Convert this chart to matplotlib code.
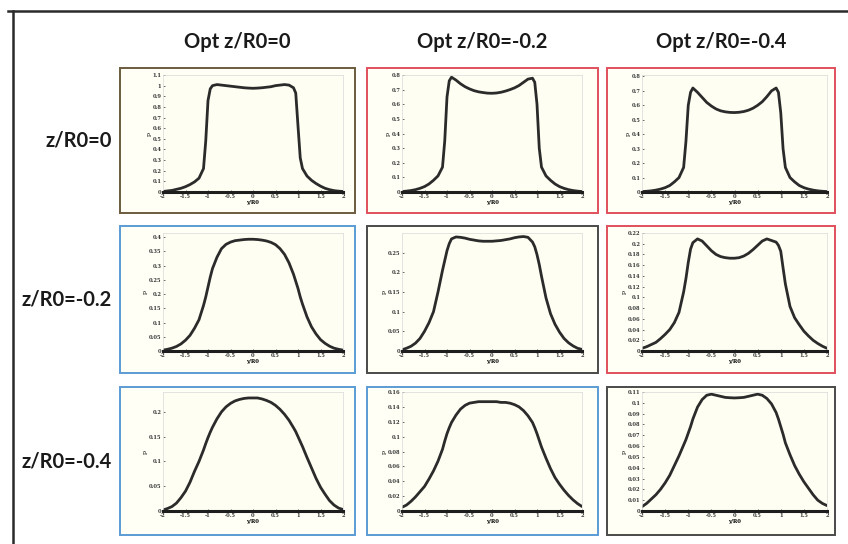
import matplotlib
matplotlib.use("Agg")
import matplotlib.pyplot as plt
from matplotlib.patches import Rectangle
from matplotlib.lines import Line2D

y_r0 = [-2.0, -1.9, -1.8, -1.7, -1.6, -1.5, -1.4, -1.3, -1.2, -1.1,
        -1.05, -1.0, -0.95, -0.9,
        -0.8, -0.7, -0.6, -0.5, -0.4, -0.3, -0.2, -0.1, 0.0, 0.1, 0.2, 0.3, 0.4, 0.5, 0.6, 0.7, 0.8, 0.9,
        0.95, 1.0, 1.05,
        1.1, 1.2, 1.3, 1.4, 1.5, 1.6, 1.7, 1.8, 1.9, 2.0]

col_titles = ["Opt z/R0=0", "Opt z/R0=-0.2", "Opt z/R0=-0.4"]
row_titles = ["z/R0=0", "z/R0=-0.2", "z/R0=-0.4"]

# row 1: z/R0=0
p_z0_opt0 = [0.005, 0.01, 0.015, 0.025, 0.035, 0.05, 0.07, 0.095, 0.13, 0.22,
             0.48, 0.86, 0.97, 1.0,
             1.01, 1.005, 1.0, 0.995, 0.99, 0.985, 0.98, 0.977, 0.975, 0.977, 0.98, 0.985, 0.99, 1.0, 1.005, 1.01, 1.005, 0.98,
             0.93, 0.62, 0.32,
             0.22, 0.15, 0.11, 0.08, 0.055, 0.035, 0.022, 0.013, 0.008, 0.005]
p_z0_opt02 = [0.003, 0.006, 0.01, 0.016, 0.025, 0.037, 0.055, 0.08, 0.11, 0.17,
              0.35, 0.65, 0.76, 0.785,
              0.765, 0.74, 0.72, 0.705, 0.693, 0.685, 0.68, 0.676, 0.675, 0.677, 0.682, 0.69, 0.70, 0.712, 0.728, 0.75, 0.772, 0.778,
              0.75, 0.6, 0.3,
              0.17, 0.11, 0.08, 0.055, 0.037, 0.025, 0.016, 0.01, 0.006, 0.003]
p_z0_opt04 = [0.003, 0.005, 0.008, 0.013, 0.02, 0.03, 0.045, 0.07, 0.1, 0.17,
              0.35, 0.6, 0.69, 0.72,
              0.69, 0.655, 0.62, 0.595, 0.575, 0.562, 0.555, 0.551, 0.55, 0.552, 0.557, 0.566, 0.58, 0.6, 0.625, 0.66, 0.7, 0.72,
              0.69, 0.55, 0.3,
              0.17, 0.1, 0.07, 0.045, 0.03, 0.02, 0.013, 0.008, 0.005, 0.003]

# row 2: z/R0=-0.2
p_z02_opt0 = [0.003, 0.006, 0.01, 0.016, 0.025, 0.038, 0.055, 0.08, 0.11, 0.16,
              0.19, 0.225, 0.26, 0.29,
              0.33, 0.36, 0.375, 0.383, 0.388, 0.39, 0.392, 0.393, 0.393, 0.392, 0.39, 0.387, 0.382, 0.374, 0.36, 0.34, 0.31, 0.27,
              0.245, 0.22, 0.19,
              0.165, 0.12, 0.085, 0.06, 0.04, 0.027, 0.017, 0.01, 0.006, 0.003]
p_z02_opt02 = [0.003, 0.007, 0.012, 0.02, 0.032, 0.05, 0.072, 0.1, 0.15, 0.205,
               0.23, 0.255, 0.273, 0.285,
               0.29, 0.289, 0.287, 0.284, 0.282, 0.28, 0.279, 0.279, 0.279, 0.28, 0.281, 0.283, 0.285, 0.288, 0.29, 0.291, 0.289, 0.277,
               0.265, 0.245, 0.22,
               0.19, 0.135, 0.095, 0.068, 0.048, 0.032, 0.021, 0.013, 0.007, 0.004]
p_z02_opt04 = [0.005, 0.008, 0.012, 0.016, 0.023, 0.031, 0.04, 0.053, 0.072, 0.11,
               0.135, 0.165, 0.19, 0.202,
               0.209, 0.205, 0.196, 0.187, 0.18, 0.176, 0.174, 0.173, 0.173, 0.174, 0.177, 0.182, 0.189, 0.197, 0.205, 0.209, 0.206, 0.203,
               0.197, 0.186, 0.155,
               0.125, 0.083, 0.062, 0.049, 0.037, 0.028, 0.02, 0.014, 0.009, 0.005]

# row 3: z/R0=-0.4
p_z04_opt0 = [0.002, 0.005, 0.009, 0.016, 0.027, 0.04, 0.058, 0.08, 0.1, 0.123,
              0.136, 0.148, 0.159, 0.169,
              0.186, 0.2, 0.21, 0.217, 0.222, 0.225, 0.227, 0.228, 0.228, 0.228, 0.226, 0.223, 0.219, 0.213, 0.205, 0.195, 0.183, 0.168,
              0.16, 0.15, 0.14,
              0.13, 0.108, 0.087, 0.066, 0.048, 0.034, 0.021, 0.012, 0.006, 0.003]
p_z04_opt02 = [0.005, 0.008, 0.013, 0.019, 0.026, 0.033, 0.043, 0.054, 0.067, 0.083,
               0.094, 0.104, 0.112, 0.119,
               0.129, 0.137, 0.142, 0.145, 0.146, 0.147, 0.147, 0.147, 0.147, 0.147, 0.146, 0.146, 0.145, 0.143, 0.14, 0.135, 0.128, 0.119,
               0.112, 0.104, 0.095,
               0.086, 0.071, 0.057, 0.045, 0.036, 0.028, 0.021, 0.015, 0.01, 0.006]
p_z04_opt04 = [0.004, 0.007, 0.011, 0.015, 0.02, 0.026, 0.033, 0.042, 0.051, 0.061,
               0.066, 0.072, 0.078, 0.085,
               0.096, 0.103, 0.107, 0.108, 0.107, 0.106, 0.105, 0.1047, 0.1045, 0.1047, 0.105, 0.106, 0.107, 0.108, 0.107, 0.104, 0.099, 0.091,
               0.085, 0.078, 0.071,
               0.063, 0.052, 0.042, 0.034, 0.027, 0.021, 0.015, 0.01, 0.007, 0.005]

# y tick values of each panel
yticks_z0 = [[0, 0.1, 0.2, 0.3, 0.4, 0.5, 0.6, 0.7, 0.8, 0.9, 1, 1.1],
             [0, 0.1, 0.2, 0.3, 0.4, 0.5, 0.6, 0.7, 0.8],
             [0, 0.1, 0.2, 0.3, 0.4, 0.5, 0.6, 0.7, 0.8]]
yticks_z02 = [[0, 0.05, 0.1, 0.15, 0.2, 0.25, 0.3, 0.35, 0.4],
              [0, 0.05, 0.1, 0.15, 0.2, 0.25],
              [0, 0.02, 0.04, 0.06, 0.08, 0.1, 0.12, 0.14, 0.16, 0.18, 0.2, 0.22]]
yticks_z04 = [[0, 0.05, 0.1, 0.15, 0.2],
              [0, 0.02, 0.04, 0.06, 0.08, 0.1, 0.12, 0.14, 0.16],
              [0, 0.01, 0.02, 0.03, 0.04, 0.05, 0.06, 0.07, 0.08, 0.09, 0.1, 0.11]]
xticks = [-2, -1.5, -1, -0.5, 0, 0.5, 1, 1.5, 2]

profiles = [[p_z0_opt0, p_z0_opt02, p_z0_opt04],
            [p_z02_opt0, p_z02_opt02, p_z02_opt04],
            [p_z04_opt0, p_z04_opt02, p_z04_opt04]]
yticks = [yticks_z0, yticks_z02, yticks_z04]
ytops = [[1.1, 0.8, 0.81], [0.415, 0.30, 0.22], [0.24, 0.16, 0.11]]

W, H = 848, 544
RED = "#e0505e"
BLUE = "#5b9bd5"
DARK = "#4a4a4a"
frame_colors = [["#6b5b3e", RED, RED], [BLUE, DARK, RED], [BLUE, BLUE, DARK]]

# pixel layout (left, right) per column and (top, bottom) per row
box_x = [(120, 355), (367, 598), (607, 835)]
box_y = [(68, 213), (226, 373), (387, 535)]
ax_x = [(163, 343), (402, 582), (642, 827)]
ax_y = [(75, 192), (233, 351), (392, 511)]


def frac(x0, y0, x1, y1):
    return [x0 / W, 1 - y1 / H, (x1 - x0) / W, (y1 - y0) / H]


fig = plt.figure(figsize=(W / 100, H / 100), dpi=100)
fig.patch.set_facecolor("white")

# outer frame (only top and left visible)
fig.add_artist(Line2D([8 / W, 1], [1 - 10.5 / H] * 2, color="#2a2a2a", lw=1.8))
fig.add_artist(Line2D([13 / W] * 2, [0, 1 - 10.5 / H], color="#2a2a2a", lw=1.8))

title_font = dict(family="Lato", fontweight="bold", fontsize=14.5, color="#1a1a1a")
for c, t in enumerate(col_titles):
    xc = (box_x[c][0] + box_x[c][1]) / 2 / W
    fig.text(xc, 1 - 42 / H, t, ha="center", va="center", **title_font)
for r, t in enumerate(row_titles):
    yc = 1 - ((box_y[r][0] + box_y[r][1]) / 2) / H
    fig.text(112 / W, yc, t, ha="right", va="center", **title_font)

tick_font = dict(family="DejaVu Serif", fontsize=3.7, fontweight="bold")

for r in range(3):
    for c in range(3):
        bx0, bx1 = box_x[c]
        by0, by1 = box_y[r]
        fig.add_artist(Rectangle((bx0 / W, 1 - by1 / H), (bx1 - bx0) / W, (by1 - by0) / H,
                                 transform=fig.transFigure, fill=True, facecolor="#fffff6",
                                 edgecolor=frame_colors[r][c], lw=1.4, zorder=-1))

        ax = fig.add_axes(frac(ax_x[c][0], ax_y[r][0], ax_x[c][1], ax_y[r][1]))
        ax.set_zorder(2)
        ax.set_facecolor("#fefef2")
        ax.plot(y_r0, profiles[r][c], color="#2b2b2b", lw=2.0, solid_capstyle="round")
        ax.set_xlim(-2, 2)
        ax.set_ylim(0, ytops[r][c])
        ax.set_xticks(xticks)
        ax.set_xticklabels([f"{v:g}" for v in xticks], **tick_font)
        ax.set_yticks(yticks[r][c])
        ax.set_yticklabels([f"{v:g}" for v in yticks[r][c]], **tick_font)
        ax.tick_params(direction="in", length=1.5, width=0.5, pad=1.2, colors="#333333")
        for side in ["top", "right", "left"]:
            ax.spines[side].set_color("#d8d8d8")
            ax.spines[side].set_linewidth(0.5)
        ax.spines["bottom"].set_color("#1e1e1e")
        ax.spines["bottom"].set_linewidth(2.2)
        ax.set_xlabel("y/R0", fontsize=3.8, fontweight="bold", family="DejaVu Serif", labelpad=1)
        ax.set_ylabel("p", fontsize=4.5, family="DejaVu Serif", labelpad=0.5)

fig.savefig("out.png", dpi=100, facecolor="white")
